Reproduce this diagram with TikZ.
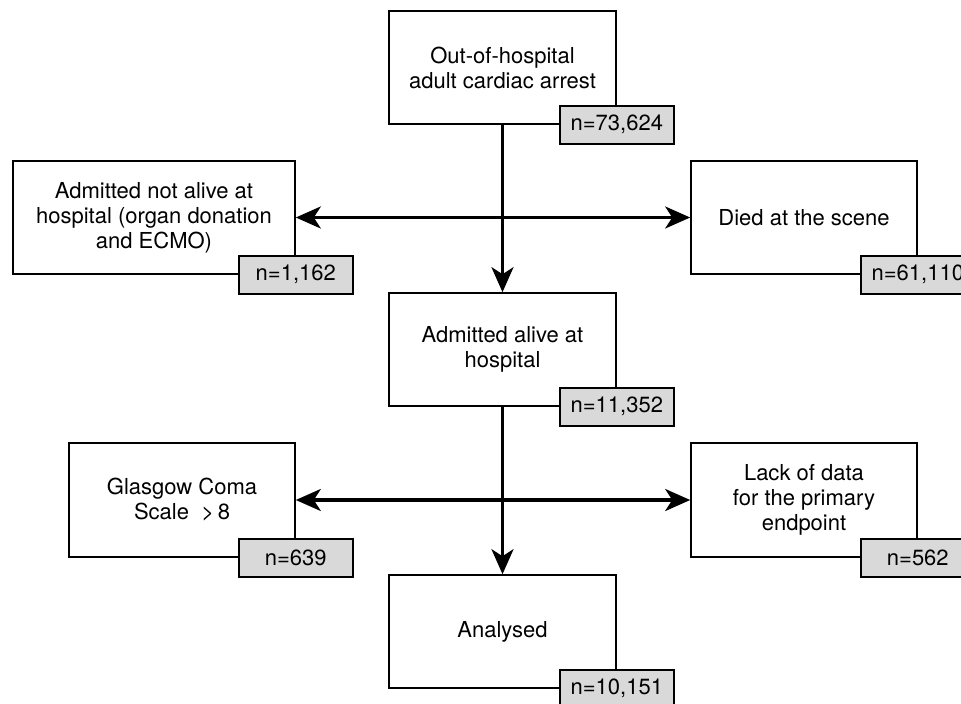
\documentclass[tikz,border=0pt]{standalone}
\usepackage{fontspec}
\setmainfont{TeX Gyre Heros}
\usetikzlibrary{arrows.meta}
\begin{document}
\begin{tikzpicture}[x=1pt,y=-1pt,
  box/.style={draw, line width=1.6pt, minimum width=#1, minimum height=113pt,
    align=center, inner sep=0pt, font=\fontsize{22}{25}\selectfont},
  countbox/.style={draw, line width=1.6pt, fill=gray!30, minimum width=114pt,
    minimum height=38pt, inner sep=0pt, font=\fontsize{22}{25}\selectfont},
  arr/.style={line width=3.2pt, -{Stealth[length=25pt,width=22pt,inset=7pt]}}]
\useasboundingbox (0,0) rectangle (961,704);
\clip (0,0) rectangle (961,704);
% main boxes
\node[box=227pt] (top) at (502.5,67.5) {Out-of-hospital\\adult cardiac arrest};
\node[box=282pt] (left1) at (154,217.5) {Admitted not alive at\\hospital (organ donation\\and ECMO)};
\node[box=226pt] (right1) at (804,217.5) {Died at the scene};
\node[box=227pt] (mid) at (502.5,349.5) {Admitted alive at\\hospital};
\node[box=226pt, minimum height=114pt] (glas) at (182,500) {Glasgow Coma\\Scale\ \ >\,8};
\node[box=226pt, minimum height=114pt] (lack) at (804,500) {Lack of data\\for the primary\\endpoint};
\node[box=227pt] (ana) at (502.5,631.5) {Analysed};
% count boxes
\node[countbox] (ctop) at (top.south east) {n=73,624};
\node[countbox] (cleft1) at (left1.south east) {n=1,162};
\node[countbox] (cright1) at (right1.south east) {n=61,110};
\node[countbox] (cmid) at (mid.south east) {n=11,352};
\node[countbox] (cglas) at (glas.south east) {n=639};
\node[countbox] (clack) at (lack.south east) {n=562};
\node[countbox] (cana) at (ana.south east) {n=10,151};
% connectors
\draw[arr] (top.south) -- (mid.north);
\draw[arr] (top.south |- left1.east) -- (left1.east);
\draw[arr] (top.south |- right1.west) -- (right1.west);
\draw[arr] (mid.south) -- (ana.north);
\draw[arr] (mid.south |- glas.east) -- (glas.east);
\draw[arr] (mid.south |- lack.west) -- (lack.west);
\end{tikzpicture}
\end{document}
